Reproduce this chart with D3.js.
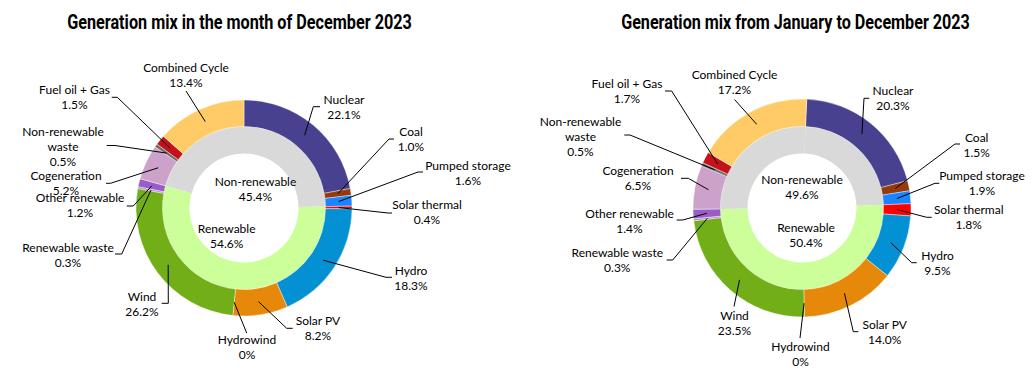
<!DOCTYPE html>
<html>
<head>
<meta charset="utf-8">
<script src="https://cdn.jsdelivr.net/npm/d3@7/dist/d3.min.js"></script>
<style>
  html, body { margin: 0; padding: 0; background: #fff; }
  svg { display: block; }
</style>
</head>
<body>
<script>
// ---------------- DATA ----------------
const categories = ["Nuclear", "Coal", "Pumped storage", "Solar thermal", "Hydro", "Solar PV",
  "Hydrowind", "Wind", "Renewable waste", "Other renewable", "Cogeneration",
  "Non-renewable waste", "Fuel oil + Gas", "Combined Cycle"];
const renewableFlags = [0, 0, 0, 1, 1, 1, 1, 1, 1, 1, 0, 0, 0, 0];
const decemberValues = [22.1, 1.0, 1.6, 0.4, 18.3, 8.2, 0, 26.2, 0.3, 1.2, 5.2, 0.5, 1.5, 13.4];
const yearValues = [20.3, 1.5, 1.9, 1.8, 9.5, 14.0, 0, 23.5, 0.3, 1.4, 6.5, 0.5, 1.7, 17.2];
const groupNames = ["Non-renewable", "Renewable"];
const decemberGroupValues = [45.4, 54.6];
const yearGroupValues = [49.6, 50.4];
const titles = ["Generation mix in the month of December 2023", "Generation mix from January to December 2023"];

// ---------------- STYLE ----------------
const colors = ["#47418f", "#973a0b", "#1a85ff", "#ff0000", "#0391d3", "#e6890a",
  "#a6a6a6", "#71ae17", "#b58ad6", "#9a5cc6", "#cda2ca", "#6f6f6f", "#c5111b", "#fecb67"];
const groupColors = ["#d9d9d9", "#ccff99"];
const wrapNames = { "Non-renewable waste": ["Non-renewable", "waste"] };
const FONT = "Lato, 'Open Sans', sans-serif";

// ---------------- LAYOUT ----------------
// label: [labelCenterX, firstLineCenterY, elbowX, elbowY, tailX|null]
const layouts = [
  {
    cx: 244, cy: 208, rHole: 54.5, rMid: 81.5, rOut: 108, rot: 0,
    titleX: 239.5, titleW: 345,
    labels: [
      [344, 100, 313.3, 106.7, 320],
      [411, 132, 389, 139, 394],
      [468, 166, 418, 172, 423],
      [427, 205, 388, 213, 392],
      [411, 271, 386, 277.3, 392],
      [318, 321, 286.7, 328.3, 292.7],
      [247, 340, 246.7, 333, null],
      [142, 297, 168.3, 303.3, 161.7],
      [68, 248, 121.7, 254, 115],
      [80, 198, 133.3, 206, 126.7],
      [66, 176, 110.5, 183.3, 106],
      [63, 132, 115, 145.5, 106.7],
      [74.5, 90, 117.3, 97.3, 111.7],
      [186, 67.5, 186, 91, null]
    ],
    inner: [[255.5, 181.7], [226.7, 228.3]]
  },
  {
    cx: 802, cy: 208, rHole: 54.5, rMid: 81.5, rOut: 109, rot: 2.5 * Math.PI / 180,
    titleX: 795.5, titleW: 349,
    labels: [
      [893, 91, 864, 98.3, 869.3],
      [976.7, 137.3, 955, 144, 960],
      [982, 176, 935, 183.3, 939.3],
      [968.7, 210, 926.7, 217.3, 931.7],
      [937.5, 256, 911.7, 262.7, 916.7],
      [884.7, 325, 853.3, 331.7, 858.3],
      [800.5, 346.7, 800, 338, null],
      [734.5, 316, 734, 306.5, null],
      [617.3, 252.7, 672.7, 260, 666.7],
      [629.5, 213.3, 682.7, 220, 676.7],
      [638, 171, 688.3, 178.3, 681],
      [580.5, 121.7, 630, 135, 624.3],
      [627, 84, 671.7, 91, 665],
      [734.5, 75, 734.5, 99.5, null]
    ],
    inner: [[802, 179.3], [806, 227.7]]
  }
];

const fmt = v => v === 0 ? "0%" : v.toFixed(1) + "%";

const svg = d3.select("body").append("svg")
  .attr("width", 1034).attr("height", 382)
  .style("font-family", FONT);

function drawChart(values, groupValues, title, L) {
  const g = svg.append("g");
  const data = categories.map((c, i) => ({ name: c, v: values[i], flag: renewableFlags[i], color: colors[i] }));
  const pie = d3.pie().sort(null).value(d => d.v)
    .startAngle(L.rot).endAngle(L.rot + 2 * Math.PI);
  const arcs = pie(data);
  const outerArc = d3.arc().innerRadius(L.rMid).outerRadius(L.rOut);
  const innerArc = d3.arc().innerRadius(L.rHole).outerRadius(L.rMid);

  // inner ring: merge contiguous slices of the same type
  const groups = [];
  arcs.forEach(a => {
    const last = groups[groups.length - 1];
    if (last && last.flag === a.data.flag) last.endAngle = a.endAngle;
    else groups.push({ flag: a.data.flag, startAngle: a.startAngle, endAngle: a.endAngle });
  });

  const ring = g.append("g").attr("transform", `translate(${L.cx},${L.cy})`);
  ring.selectAll("path.inner").data(groups).join("path")
    .attr("class", "inner")
    .attr("d", innerArc)
    .attr("fill", d => groupColors[d.flag]);
  ring.selectAll("path.outer").data(arcs.filter(a => a.data.v > 0)).join("path")
    .attr("class", "outer")
    .attr("d", outerArc)
    .attr("fill", d => d.data.color)
    .attr("stroke", "#fff").attr("stroke-width", 0.4);

  // leader lines
  arcs.forEach((a, i) => {
    const [lx, ly, ex, ey, tx] = L.labels[i];
    const c = outerArc.centroid(a);
    const pts = [[L.cx + c[0], L.cy + c[1]], [ex, ey]];
    if (tx !== null) pts.push([tx, ey]);
    g.append("path")
      .attr("d", d3.line()(pts))
      .attr("fill", "none").attr("stroke", "#000").attr("stroke-width", 1);
  });

  // outer labels
  arcs.forEach((a, i) => {
    const [lx, ly] = L.labels[i];
    const lines = (wrapNames[a.data.name] || [a.data.name]).concat([fmt(a.data.v)]);
    const t = g.append("text").attr("text-anchor", "middle")
      .attr("font-size", 12).attr("fill", "#000");
    lines.forEach((s, k) => {
      t.append("tspan").attr("x", lx).attr("y", ly + 4.3 + k * 15).text(s);
    });
  });

  // inner labels
  groupNames.forEach((n, k) => {
    const [x, y] = L.inner[k];
    const t = g.append("text").attr("text-anchor", "middle")
      .attr("font-size", 12).attr("fill", "#000");
    t.append("tspan").attr("x", x).attr("y", y + 4.3).text(n);
    t.append("tspan").attr("x", x).attr("y", y + 4.3 + 15).text(fmt(groupValues[k]));
  });

  // title (condensed by horizontal scaling)
  const tg = g.append("g").attr("transform", `translate(${L.titleX},29.3)`);
  const tt = tg.append("text")
    .attr("x", 0).attr("y", 0)
    .attr("text-anchor", "middle")
    .attr("font-family", "Roboto, 'Liberation Sans', sans-serif")
    .attr("font-weight", "bold").attr("font-size", 19.5)
    .attr("fill", "#000")
    .text(title);
  const natural = tt.node().getComputedTextLength();
  tg.attr("transform", `translate(${L.titleX},29.3) scale(${L.titleW / natural},1)`);
}

drawChart(decemberValues, decemberGroupValues, titles[0], layouts[0]);
drawChart(yearValues, yearGroupValues, titles[1], layouts[1]);
</script>
</body>
</html>
